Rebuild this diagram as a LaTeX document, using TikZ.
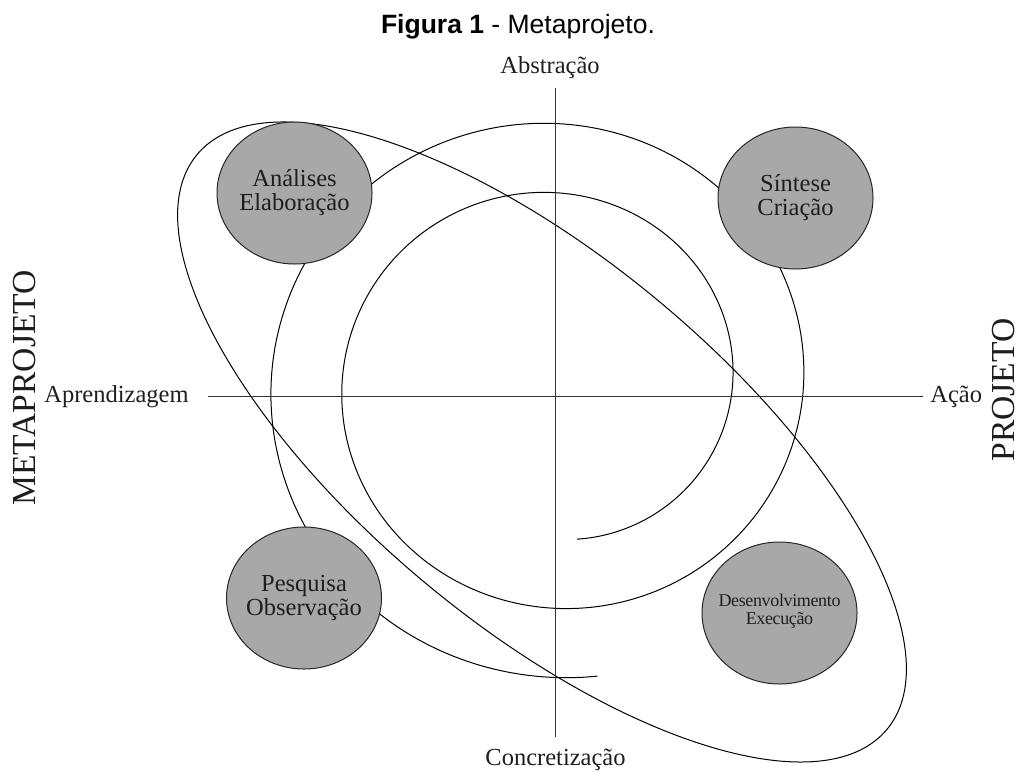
\documentclass[tikz,border=0pt]{standalone}
\usepackage{fontspec}
\setmainfont{Liberation Serif}
\newfontfamily\titlefont{Liberation Sans}
\usetikzlibrary{shapes.geometric}
\definecolor{blobfill}{HTML}{A8A8A8}
\definecolor{inkc}{HTML}{1E1E1E}
\definecolor{axisc}{HTML}{333333}
\begin{document}
\begin{tikzpicture}[x=0.5pt,y=-0.5pt,
  curve/.style={draw=black,line width=0.5pt},
  axisline/.style={draw=axisc,line width=0.7pt},
  blob/.style={ellipse,draw=black!85,line width=0.5pt,fill=blobfill,minimum width=77.5pt,minimum height=71pt,inner sep=0pt},
  blobtext/.style={align=center,text=inkc,font=\fontsize{12.25pt}{12pt}\selectfont,inner sep=0pt},
  smalltext/.style={align=center,text=inkc,font=\fontsize{9pt}{9pt}\selectfont\addfontfeatures{LetterSpace=-2},inner sep=0pt},
  lbl/.style={text=inkc,font=\fontsize{12.25pt}{14pt}\selectfont,inner sep=0pt},
  bigl/.style={text=inkc,font=\fontsize{16.8pt}{20pt}\selectfont,inner sep=0pt,rotate=90}]
\useasboundingbox (0,0) rectangle (1020,771);

% title
\node[anchor=base,inner sep=0pt,font=\titlefont\fontsize{13.25pt}{16pt}\selectfont,text=black] (title) at (518,33) {\textbf{Figura 1} - Metaprojeto.};

% spiral (Archimedean, slightly flattened)
\draw[curve] plot[smooth,domain=-82.2:638,samples=260,variable=\t]
  ({555.1+(177.6+0.197*\t)*cos(\t)},{383.2-0.9754*(177.6+0.197*\t)*sin(\t)});

% big tilted ellipse
\coordinate (ec) at (542,442);
\draw[curve,rotate around={-39.8:(ec)}] (ec) ellipse [x radius=224.5pt, y radius=91.5pt];

% axes
\coordinate (vt) at (555.5,88);
\coordinate (vb) at (555.5,737);
\coordinate (hl) at (208,396.5);
\coordinate (hr) at (923,396.5);
\draw[axisline] (vt) -- (vb);
\draw[axisline] (hl) -- (hr);

% axis labels
\node[lbl,anchor=base] (abs) at (550,73) {Abstração};
\node[lbl,anchor=base] (con) at (555.5,765) {Concretização};
\node[lbl,anchor=base west] (apr) at (44,402) {Aprendizagem};
\node[lbl,anchor=base west] (aca) at (930,402) {Ação};
\node[bigl] (meta) at (25,388) {METAPROJETO};
\node[bigl] (proj) at (1004,390) {PROJETO};

% grey circles
\node[blob] (ana) at (294.5,193) {};
\node[blobtext] (anat) at (ana) {Análises\\Elaboração};
\node[blob] (sin) at (795.5,198) {};
\node[blobtext] (sint) at (sin) {Síntese\\Criação};
\node[blob] (pes) at (304,598) {};
\node[blobtext] (pest) at (pes) {Pesquisa\\Observação};
\node[blob] (des) at (779.5,613) {};
\node[smalltext] (dest) at ([yshift=1pt]des.center) {Desenvolvimento\\Execução};
\end{tikzpicture}
\end{document}
